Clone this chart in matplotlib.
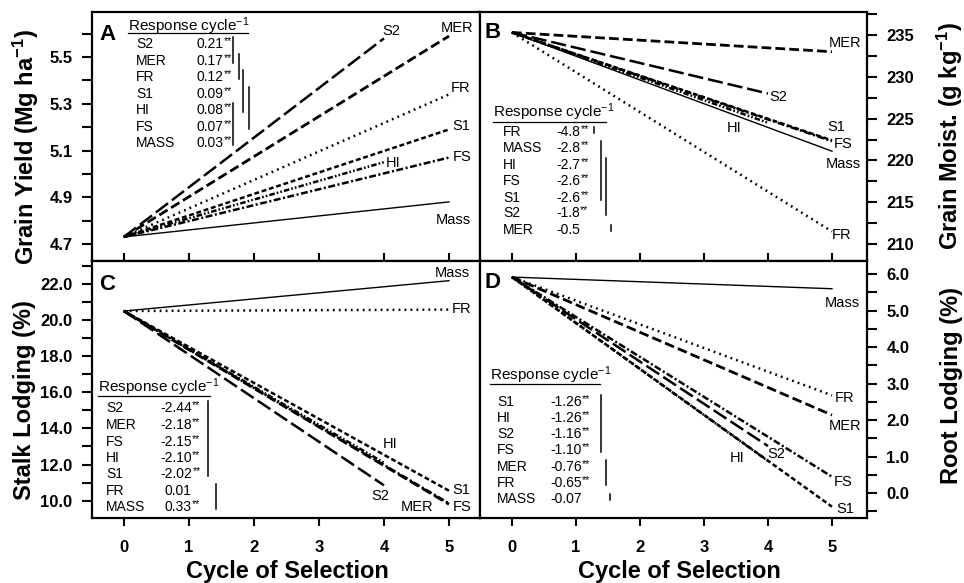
import numpy as np
import matplotlib
matplotlib.use('Agg')
import matplotlib.pyplot as plt
from matplotlib.ticker import FixedLocator, FormatStrFormatter

plt.rcParams['font.family'] = ['Liberation Sans', 'DejaVu Sans']
plt.rcParams['mathtext.fontset'] = 'custom'
plt.rcParams['mathtext.rm'] = 'Liberation Sans'
plt.rcParams['mathtext.it'] = 'Liberation Sans:italic'
plt.rcParams['mathtext.bf'] = 'Liberation Sans:bold'
plt.rcParams['lines.scale_dashes'] = False

W, H = 964, 583

# selection methods, same order for every panel
methods = ['S2', 'MER', 'FR', 'S1', 'HI', 'FS', 'Mass']
last_cycle = [4, 5, 5, 5, 4, 5, 5]

# fitted value at cycle 0 and at the last cycle of each method
yield_c0 = 4.73
yield_end = [5.58, 5.59, 5.34, 5.19, 5.05, 5.07, 4.88]
moist_c0 = 235.3
moist_end = [228.0, 233.0, 211.5, 222.4, 224.5, 222.3, 221.1]
stalk_c0 = 20.5
stalk_end = [10.85, 9.8, 20.58, 10.55, 12.1, 9.85, 22.18]
root_c0 = 5.92
root_end = [1.29, 2.14, 2.68, -0.37, 0.88, 0.45, 5.6]

# response tables
yield_names = ['S2', 'MER', 'FR', 'S1', 'HI', 'FS', 'MASS']
yield_resp = ['0.21**', '0.17**', '0.12**', '0.09**', '0.08**', '0.07**', '0.03**']
moist_names = ['FR', 'MASS', 'HI', 'FS', 'S1', 'S2', 'MER']
moist_resp = ['-4.8**', '-2.8**', '-2.7**', '-2.6**', '-2.6**', '-1.8**', '-0.5']
stalk_names = ['S2', 'MER', 'FS', 'HI', 'S1', 'FR', 'MASS']
stalk_resp = ['-2.44**', '-2.18**', '-2.15**', '-2.10**', '-2.02**', '0.01', '0.33**']
root_names = ['S1', 'HI', 'S2', 'FS', 'MER', 'FR', 'MASS']
root_resp = ['-1.26**', '-1.26**', '-1.16**', '-1.10**', '-0.76**', '-0.65**', '-0.07']

styles = {
    'S2': dict(dashes=(11, 3.5), lw=1.8),
    'MER': dict(dashes=(7, 3), lw=2.0),
    'FR': dict(dashes=(1.3, 3), lw=1.8),
    'S1': dict(dashes=(3.5, 2), lw=1.8),
    'HI': dict(dashes=(4, 1.5, 1.2, 1.5, 1.2, 1.5), lw=1.8),
    'FS': dict(dashes=(5, 1.8, 1.5, 1.8), lw=1.8),
    'Mass': dict(linestyle='-', lw=1.0),
}


def fxy(x, y):
    return x / W, 1 - y / H


panels = [
    dict(box=(92, 12, 480, 261), xlim=(-0.49, 5.477), ylim=(4.627, 5.693),
         major=[4.7, 4.9, 5.1, 5.3, 5.5], minor=[4.8, 5.0, 5.2, 5.4, 5.6], fmt='%.1f',
         c0=yield_c0, ends=yield_end, side='left', bottom=False,
         ylabel=r'Grain Yield (Mg ha$^{\mathbf{-1}}$)', ylab=(-0.17, 0.456),
         letter='A', lpos=(108, 34),
         labels=[(391.7, 30.7), (456.7, 27.7), (460.7, 88.3), (461.7, 126),
                 (393, 163.3), (461.7, 156.7), (453.3, 220)],
         names=yield_names, resp=yield_resp, head=(128, 26, 248, 33),
         rows=[44, 61, 77, 94, 110, 127, 143], colx=(136, 192),
         bars=[(0, 1, 232.7), (1, 2, 239.3), (2, 4, 243.3), (3, 5, 249.3), (4, 6, 233.3)]),
    dict(box=(480, 12, 867, 261), xlim=(-0.5, 5.547), ylim=(207.97, 237.75),
         major=[210, 215, 220, 225, 230, 235], minor=[212.5, 217.5, 222.5, 227.5, 232.5, 237.5],
         fmt='%d', c0=moist_c0, ends=moist_end, side='right', bottom=False,
         ylabel=r'Grain Moist. (g kg$^{\mathbf{-1}}$)', ylab=(1.214, 0.5),
         letter='B', lpos=(493, 32),
         labels=[(778.3, 96.7), (845, 42.7), (841.7, 235), (836, 127.3),
                 (734, 128.3), (843.3, 144), (843.3, 164)],
         names=moist_names, resp=moist_resp, head=(493, 112, 606, 122),
         rows=[132, 148, 165, 181, 198, 213, 230], colx=(503, 556),
         bars=[(0, 0, 594), (1, 4, 600.7), (2, 5, 606), (6, 6, 611)]),
    dict(box=(92, 261, 480, 518), xlim=(-0.49, 5.477), ylim=(9.04, 23.27),
         major=[10, 12, 14, 16, 18, 20, 22], minor=[11, 13, 15, 17, 19, 21, 23], fmt='%.1f',
         c0=stalk_c0, ends=stalk_end, side='left', bottom=True,
         ylabel='Stalk Lodging (%)', ylab=(-0.175, 0.459), xlab=(0.504, -0.209),
         letter='C', lpos=(107, 285),
         labels=[(380, 496), (417.3, 506.7), (461.7, 309.3), (461.7, 490),
                 (390, 444), (461.7, 506.7), (452.7, 273.3)],
         names=stalk_names, resp=stalk_resp, head=(98, 387, 210, 396),
         rows=[408, 425, 442, 458, 474, 491, 507], colx=(106, 160),
         bars=[(0, 4, 208.3), (5, 6, 216)]),
    dict(box=(480, 261, 867, 518), xlim=(-0.5, 5.547), ylim=(-0.68, 6.36),
         major=[0, 1, 2, 3, 4, 5, 6], minor=[-0.5, 0.5, 1.5, 2.5, 3.5, 4.5, 5.5], fmt='%.1f',
         c0=root_c0, ends=root_end, side='right', bottom=True,
         ylabel='Root Lodging (%)', ylab=(1.219, 0.514), xlab=(0.515, -0.209),
         letter='D', lpos=(493, 283),
         labels=[(776.7, 454), (845, 425.7), (845, 397.7), (845, 509.3),
                 (737.3, 458.3), (843.3, 481.7), (842.7, 303.3)],
         names=root_names, resp=root_resp, head=(490, 375, 600, 384),
         rows=[402, 418, 434, 450, 467, 483, 499], colx=(497, 550),
         bars=[(0, 3, 600.7), (4, 5, 605.7), (6, 6, 610)]),
]

fig = plt.figure(figsize=(W / 100, H / 100), dpi=100)
renderer = fig.canvas.get_renderer()

for p in panels:
    x0, y0, x1, y1 = p['box']
    ax = fig.add_axes([x0 / W, 1 - y1 / H, (x1 - x0) / W, (y1 - y0) / H])
    for i, m in enumerate(methods):
        ax.plot([0, last_cycle[i]], [p['c0'], p['ends'][i]], color='black', **styles[m])
    ax.set_xlim(*p['xlim'])
    ax.set_ylim(*p['ylim'])
    for s in ax.spines.values():
        s.set_linewidth(1.6)

    ax.yaxis.set_major_locator(FixedLocator(p['major']))
    ax.yaxis.set_minor_locator(FixedLocator(p['minor']))
    ax.yaxis.set_major_formatter(FormatStrFormatter(p['fmt']))
    if p['side'] == 'right':
        ax.yaxis.tick_right()
        ax.yaxis.set_label_position('right')
    ax.tick_params(axis='y', which='both', direction='out', length=7, width=1.5,
                   labelsize=12, pad=7)
    for t in ax.get_yticklabels():
        t.set_fontweight('bold')
    ax.set_ylabel(p['ylabel'], fontsize=17, fontweight='bold', rotation=90,
                  va='center', ha='center')
    ax.yaxis.set_label_coords(*p['ylab'])

    ax.set_xticks([0, 1, 2, 3, 4, 5])
    if p['bottom']:
        ax.tick_params(axis='x', direction='out', length=6, width=1.5, labelsize=12,
                       pad=10, top=False)
        for t in ax.get_xticklabels():
            t.set_fontweight('bold')
        ax.set_xlabel('Cycle of Selection', fontsize=17, fontweight='bold', va='center')
        ax.xaxis.set_label_coords(*p['xlab'])
    else:
        ax.tick_params(axis='x', direction='in', length=6, width=1.5,
                       labelbottom=False, top=False)

    # line-end labels
    for (lx, ly), m in zip(p['labels'], methods):
        fig.text(*fxy(lx, ly), m, fontsize=10.5, ha='center', va='center')

    # panel letter
    fig.text(*fxy(*p['lpos']), p['letter'], fontsize=16, fontweight='bold',
             ha='center', va='center')

    # response table
    hx0, hy, hx1, uy = p['head']
    fig.text(*fxy(hx0, hy), r'Response cycle$^{-1}$', fontsize=11, ha='left', va='center')
    fig.add_artist(plt.Line2D([hx0 / W, hx1 / W], [1 - uy / H, 1 - uy / H],
                              color='black', lw=0.9))
    nx, vx = p['colx']
    for name, val, ry in zip(p['names'], p['resp'], p['rows']):
        fig.text(*fxy(nx, ry), name, fontsize=10, ha='left', va='center')
        off = 0 if val.startswith('-') else 4.5
        num = val.rstrip('*')
        t = fig.text(*fxy(vx + off, ry), num, fontsize=10, ha='left', va='center')
        if val.endswith('**'):
            xe = t.get_window_extent(renderer).x1
            fig.text(*fxy(xe + 0.5, ry - 2.5), '**', fontsize=7.5, ha='left', va='center')
    for r0, r1, bx in p['bars']:
        if r0 == r1:
            ya, yb = p['rows'][r0] - 5, p['rows'][r0] + 1
        else:
            ya, yb = p['rows'][r0] - 7, p['rows'][r1] + 2
        fig.add_artist(plt.Line2D([bx / W, bx / W], [1 - ya / H, 1 - yb / H],
                                  color='black', lw=1.1))

fig.savefig('out.png', dpi=100)
